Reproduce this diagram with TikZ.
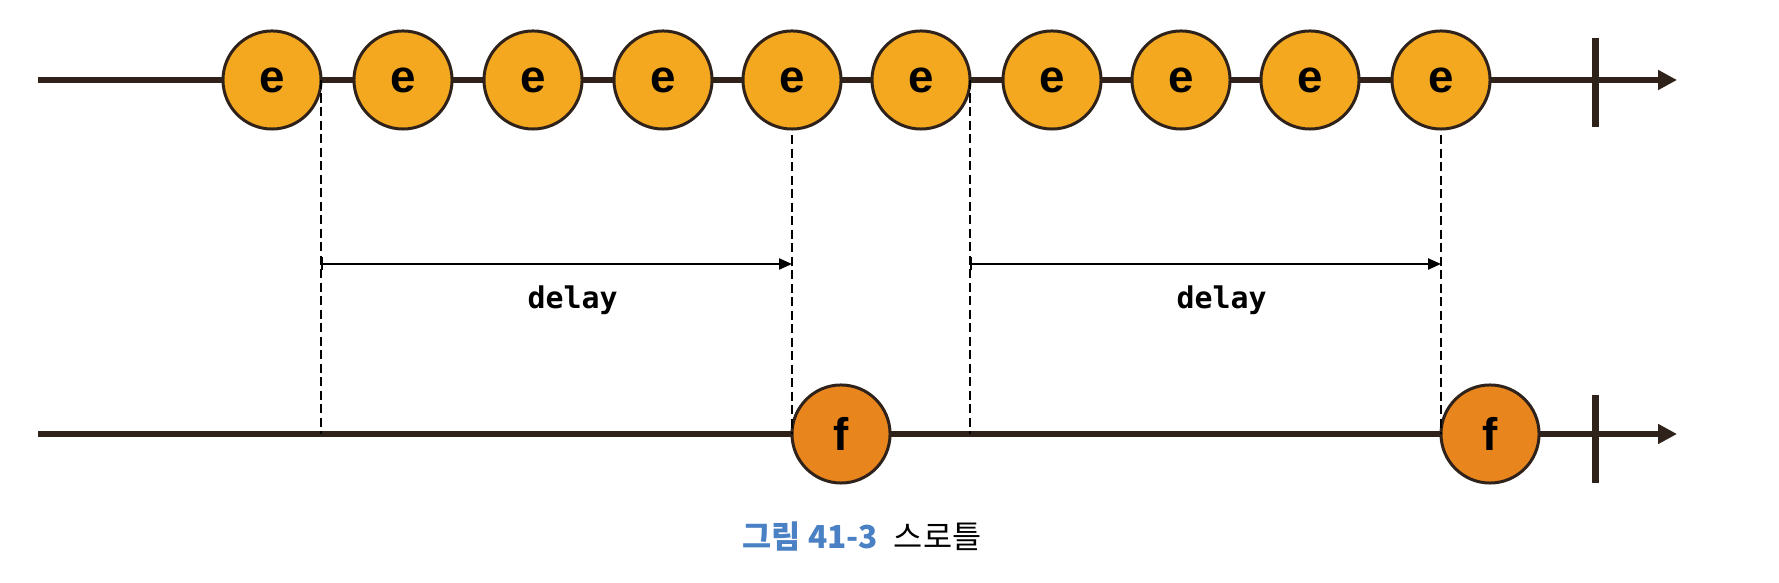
\documentclass[tikz,border=0pt]{standalone}
\usepackage{fontspec}
\usetikzlibrary{arrows.meta}
\newfontfamily\marblefont{Liberation Sans}
\newfontfamily\codefont{DejaVu Sans Mono}
\newfontfamily\cjkfont{Noto Sans CJK KR}
\definecolor{efill}{HTML}{F4A820}
\definecolor{ffill}{HTML}{E8851C}
\definecolor{rim}{HTML}{2E221B}
\definecolor{capblue}{HTML}{4A80C4}
\begin{document}
\begin{tikzpicture}[x=0.01cm,y=-0.01cm,inner sep=0pt,outer sep=0pt,
marble/.style={draw=rim,circle,line width=0.85pt,minimum size=9.8mm,fill=efill,font=\marblefont\bfseries\fontsize{13}{13}\selectfont},
fmarble/.style={marble,fill=ffill},
timeline/.style={draw=rim,line width=1.7pt,-{Triangle[length=1.9mm,width=1.9mm]}},
endtick/.style={draw=rim,line width=2pt},
guide/.style={draw=black,line width=0.8pt,dash pattern=on 0.9mm off 0.45mm},
span/.style={draw=black,line width=0.65pt,{Bar[width=1.3mm]}-{Triangle[length=1.3mm,width=1.1mm]}},
lbl/.style={font=\codefont\bfseries\fontsize{8.5}{8.5}\selectfont}]
\useasboundingbox (0,0) rectangle (1779,583);
\coordinate (top0) at (38,80);
\coordinate (top1) at (1677,80);
\coordinate (bot0) at (38,434);
\coordinate (bot1) at (1677,434);
\coordinate (lvl) at (0,264);
\draw (272,80) node[marble] (e1) {e};
\draw (403,80) node[marble] (e2) {e};
\draw (533,80) node[marble] (e3) {e};
\draw (663,80) node[marble] (e4) {e};
\draw (792,80) node[marble] (e5) {e};
\draw (921,80) node[marble] (e6) {e};
\draw (1052,80) node[marble] (e7) {e};
\draw (1181,80) node[marble] (e8) {e};
\draw (1310,80) node[marble] (e9) {e};
\draw (1441,80) node[marble] (e10) {e};
\draw (e5 |- bot0) node[fmarble,anchor=west] (f1) {f};
\draw (e10 |- bot0) node[fmarble,anchor=west] (f2) {f};
\draw[timeline] (top0) -- (e1) -- (e2) -- (e3) -- (e4) -- (e5) -- (e6) -- (e7) -- (e8) -- (e9) -- (e10) -- (top1);
\draw[timeline] (bot0) -- (f1) -- (f2) -- (bot1);
\draw[endtick] (1595,38) -- (1595,127);
\draw[endtick] (1595,395) -- (1595,483);
\draw[guide] (e1.east) -- (e1.east |- bot0);
\draw[guide] (e5.south) ++(0,6) -- (f1.west);
\draw[guide] (e6.east) -- (e6.east |- bot0);
\draw[guide] (e10.south) ++(0,6) -- (f2.west);
\draw[span] (e1.east |- lvl) -- (e5 |- lvl) node[lbl,midway,below=2.2mm,xshift=1.6mm] (d1) {delay};
\draw[span] (e6.east |- lvl) -- (e10 |- lvl) node[lbl,midway,below=2.2mm,xshift=1.6mm] (d2) {delay};
\node[font=\cjkfont\fontsize{9}{9}\selectfont] (cap) at (862,537) {{\color{capblue}\bfseries 그림 41-3}\hspace{0.5em}스로틀};
\end{tikzpicture}
\end{document}
